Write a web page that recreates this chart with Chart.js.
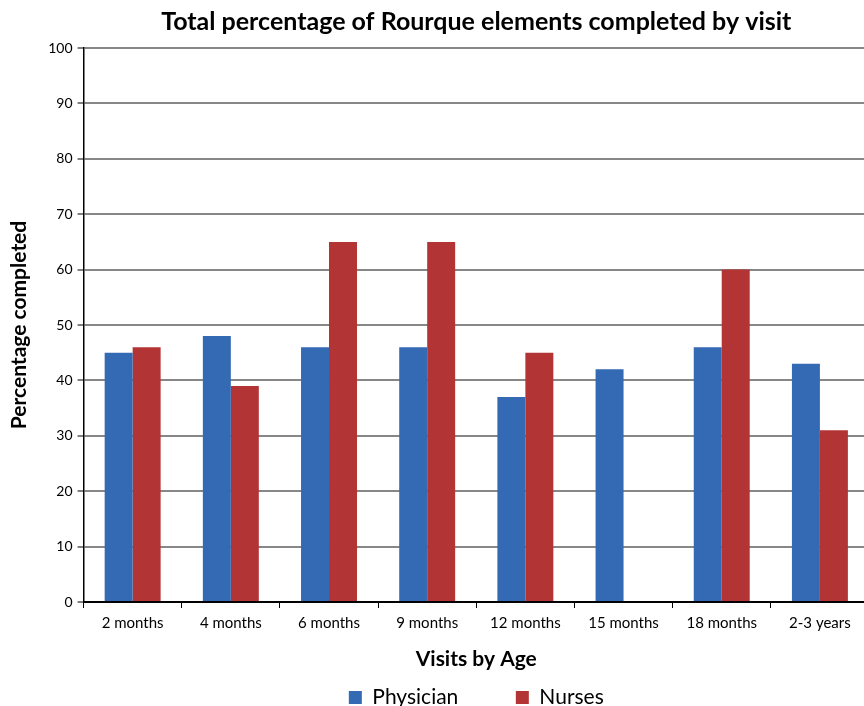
<!DOCTYPE html>
<html>
<head>
<meta charset="utf-8">
<script src="https://cdn.jsdelivr.net/npm/chart.js"></script>
<style>
  html, body { margin: 0; padding: 0; background: #fff; overflow: hidden; }
  #wrap { width: 872px; height: 706px; position: relative; }
</style>
</head>
<body>
<div id="wrap"><canvas id="c"></canvas></div>
<script>
// data
const visits = ['2 months', '4 months', '6 months', '9 months', '12 months', '15 months', '18 months', '2-3 years'];
const physician = [45, 48, 46, 46, 37, 42, 46, 43];
const nurses = [46, 39, 65, 65, 45, null, 60, 31];
const yTicks = [0, 10, 20, 30, 40, 50, 60, 70, 80, 90, 100];

const BLUE = '#3469b3';
const RED = '#b33434';
const FONT = 'Lato, "Open Sans", sans-serif';

// legend labels: add an empty spacer entry between the two series so the gap is wide
function legendLabels(chart) {
  const items = Chart.defaults.plugins.legend.labels.generateLabels(chart);
  items.splice(1, 0, {
    text: '', fillStyle: 'rgba(0,0,0,0)', strokeStyle: 'rgba(0,0,0,0)',
    lineWidth: 0, hidden: false, datasetIndex: -1
  });
  return items;
}

new Chart(document.getElementById('c'), {
  type: 'bar',
  data: {
    labels: visits,
    datasets: [
      { label: 'Physician', data: physician, backgroundColor: BLUE, borderWidth: 0 },
      { label: 'Nurses', data: nurses, backgroundColor: RED, borderWidth: 0 }
    ]
  },
  options: {
    responsive: true,
    maintainAspectRatio: false,
    animation: false,
    categoryPercentage: 0.57,
    barPercentage: 1.0,
    layout: { padding: { left: 7, right: 3, top: 0, bottom: -12 } },
    plugins: {
      title: {
        display: true,
        fullSize: false,
        text: 'Total percentage of Rourque elements completed by visit',
        color: '#000',
        font: { family: FONT, size: 25, weight: 'bold' },
        padding: { top: 7, bottom: 11 }
      },
      legend: {
        position: 'bottom',
        fullSize: false,
        labels: {
          color: '#000',
          font: { family: FONT, size: 21 },
          boxWidth: 13,
          boxHeight: 13,
          padding: 17,
          generateLabels: legendLabels
        },
        onClick: () => {}
      },
      tooltip: { enabled: false }
    },
    scales: {
      x: {
        grid: { display: true, drawOnChartArea: false, offset: true, tickLength: 6, tickColor: '#000', tickWidth: 1 },
        border: { display: true, color: '#000', width: 2 },
        ticks: { color: '#000', font: { family: FONT, size: 15 }, padding: 6, maxRotation: 0 },
        title: {
          display: true,
          text: 'Visits by Age',
          color: '#000',
          font: { family: FONT, size: 21, weight: 'bold' },
          padding: { top: 8.8, bottom: -2 }
        }
      },
      y: {
        min: 0,
        max: 100,
        afterBuildTicks: (scale) => { scale.ticks = yTicks.map(v => ({ value: v })); },
        grid: { color: '#878787', lineWidth: 2, tickLength: 6, tickColor: '#000', tickWidth: 1 },
        border: { display: true, color: '#000', width: 1.5 },
        ticks: { color: '#000', font: { family: FONT, size: 14 }, padding: 5 },
        title: {
          display: true,
          text: 'Percentage completed',
          color: '#000',
          font: { family: FONT, size: 21, weight: 'bold' },
          padding: { top: 0, bottom: 11 }
        }
      }
    }
  }
});
</script>
</body>
</html>
